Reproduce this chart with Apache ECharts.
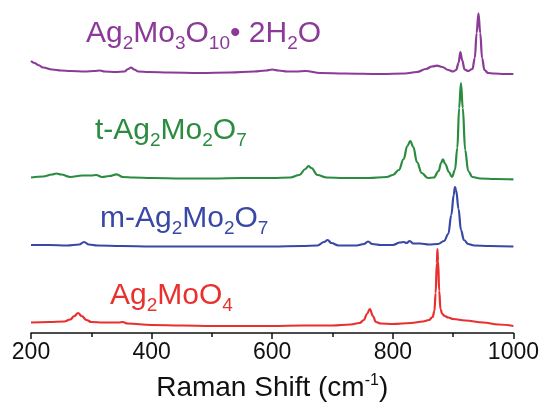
<!DOCTYPE html>
<html>
<head>
<meta charset="utf-8">
<script src="https://cdn.jsdelivr.net/npm/echarts@6/dist/echarts.min.js"></script>
<style>html,body{margin:0;padding:0;background:#fff}#c{width:542px;height:410px}</style>
</head>
<body>
<div id="c"></div>
<script>
// Raman spectra (intensity in a.u., before vertical stacking offset)
const redShift = [200,230,255,265,272,278,284,292,300,320,345,352,360,400,450,500,550,600,650,700,730,745,752,757,762,767,772,780,800,830,850,860,866,869,871,873,874,875,877,879,882,886,892,900,920,950,975,1000];
const redInt = [10.5,11,11.5,13.5,17,20,17,13,11,10.5,10.5,11,9.5,8,7.5,7,7,7,7.5,7.5,8.5,10,13,19,24,17,11,9.5,9,10,11.5,13,16,22,40,70,84,72,42,24,19,17,15.5,14,12.5,10.5,8.5,7];

const blueShift = [200,230,260,280,288,296,310,350,400,450,500,550,600,650,675,686,692,698,710,740,752,759,766,780,800,812,818,823,828,834,845,860,875,885,892,897,901,903,905,909,913,918,925,935,960,1000];
const blueInt = [8,8,7.5,8.5,11,8.5,7.5,7,6.5,6.5,6.5,6.5,6.5,7,7.5,11,13,10,7.5,7.5,9,11.5,9,8,8,10.5,11,10,12,9.5,9.5,8.5,9,12,19,38,58,66,63,44,23,13,9,7.5,7,6.5];

const greenShift = [200,220,235,242,250,265,285,300,308,318,330,342,352,370,400,450,500,550,600,630,645,655,660,665,675,690,720,760,790,800,810,818,824,829,834,840,848,858,868,876,880,883,887,893,898,903,907,910,913,916,920,925,932,945,970,1000];
const greenInt = [7.5,8.5,10.5,11.5,10.5,8,9.5,9.5,10,8,9,10.7,8,7.5,7,6.5,6.5,7,7,7.5,10,16,19,17,10,7.5,7,7,8,10,15,26,39,44,38,23,12,7,7.5,14,22,25.7,21,13,8,15,37,77,102,77,35,14,8,6.5,6,5.7];

const purpleShift = [200,206,212,220,235,250,265,290,305,314,322,340,355,361,366,371,378,395,430,480,530,570,590,600,610,625,640,655,680,720,780,820,840,855,865,873,882,892,900,905,909,912,915,919,925,932,936,939,942,945,948,952,958,968,985,1000];
const purpleInt = [20,18,16,13.5,11.5,10.5,10,9.5,10,10.5,9.5,9,9.5,12,13.5,11.5,9.5,9,8.5,8,8.5,9.5,10.5,11.5,10.5,9.5,9.5,10,8,7.5,7,7.5,9,12,14.5,15.3,14,11,9.5,11,18,29,21,11.5,10,12,23,48,67.7,48,23,11,8,7.5,7,7];

const offsets = [0, 80, 148, 252];           // stacking offsets: red, blue, green, purple
const colors = ['#e8312f', '#3848a4', '#2b8c3f', '#8b3a98'];
const xTicks = [200, 400, 600, 800, 1000];

function pairs(xs, ys, off) { return xs.map((x, i) => [x, ys[i] + off]); }
const spectra = [
  pairs(redShift, redInt, offsets[0]),
  pairs(blueShift, blueInt, offsets[1]),
  pairs(greenShift, greenInt, offsets[2]),
  pairs(purpleShift, purpleInt, offsets[3])
];

const FF = '"Liberation Sans", Arial, sans-serif';
function labelRich(color) {
  return {
    n: { fontSize: 30, fontFamily: FF, fill: color },
    s: { fontSize: 19, fontFamily: FF, fill: color, padding: [19, 0, 0, 0] }
  };
}

const chart = echarts.init(document.getElementById('c'), null, { renderer: 'canvas' });
chart.setOption({
  animation: false,
  backgroundColor: '#fff',
  grid: { left: 31, right: 27, top: 3, bottom: 77 },
  xAxis: {
    type: 'value', min: xTicks[0], max: xTicks[xTicks.length - 1], interval: 200,
    name: '{n|Raman Shift (cm}{s|-1}{n|)}',
    nameLocation: 'middle', nameGap: 40,
    nameTextStyle: {
      rich: {
        n: { fontSize: 28, fontFamily: FF, color: '#111' },
        s: { fontSize: 16, fontFamily: FF, color: '#111', padding: [0, 0, 15, 0] }
      }
    },
    axisLine: { show: true, lineStyle: { color: '#111', width: 1.5 } },
    axisTick: { show: true, inside: false, length: 6, lineStyle: { color: '#111', width: 1.5 } },
    minorTick: { show: true, splitNumber: 2, length: 4, lineStyle: { color: '#111', width: 1.5 } },
    axisLabel: { fontSize: 23, fontFamily: FF, color: '#111', margin: 8, showMinLabel: true, showMaxLabel: true,
      formatter: v => String(v) },
    splitLine: { show: false }
  },
  yAxis: { type: 'value', min: 0, max: 330, show: false },
  series: spectra.map((d, i) => ({
    type: 'line', data: d, showSymbol: false, symbol: 'none',
    smooth: 0.4, smoothMonotone: 'x',
    lineStyle: { color: colors[i], width: 2.2 }
  })),
  graphic: [
    { type: 'text', left: 86, top: 19, style: { text: '{n|Ag}{s|2}{n|Mo}{s|3}{n|O}{s|10}{n|• 2H}{s|2}{n|O}', rich: labelRich(colors[3]) } },
    { type: 'text', left: 95, top: 116, style: { text: '{n|t-Ag}{s|2}{n|Mo}{s|2}{n|O}{s|7}', rich: labelRich(colors[2]) } },
    { type: 'text', left: 100, top: 204, style: { text: '{n|m-Ag}{s|2}{n|Mo}{s|2}{n|O}{s|7}', rich: labelRich(colors[1]) } },
    { type: 'text', left: 110, top: 281, style: { text: '{n|Ag}{s|2}{n|MoO}{s|4}', rich: labelRich(colors[0]) } }
  ]
});
</script>
</body>
</html>
